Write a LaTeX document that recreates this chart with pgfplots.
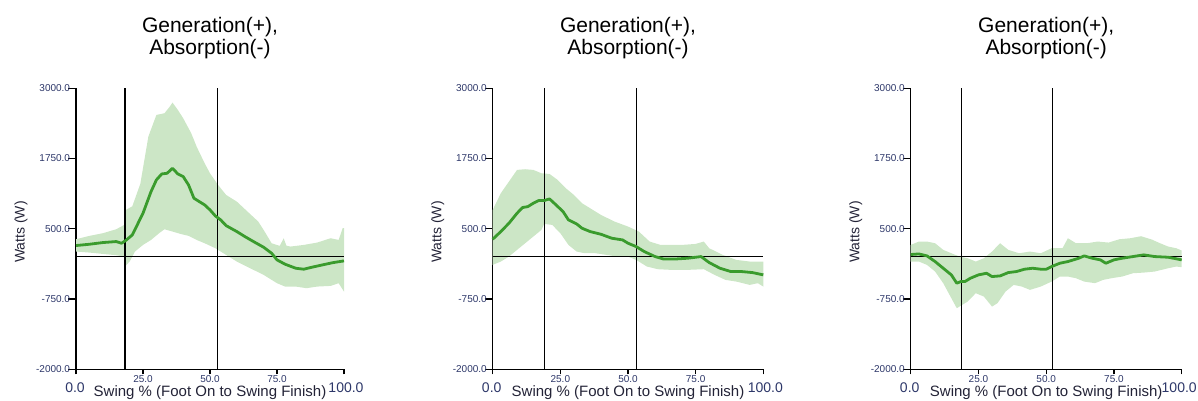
\documentclass[border=0pt]{standalone}
\usepackage{pgfplots}
\pgfplotsset{compat=1.18}
\usepackage{fontspec}
\setmainfont{Liberation Sans}
\definecolor{bandg}{RGB}{204,230,198}
\definecolor{lineg}{RGB}{58,155,45}
\definecolor{ticknavy}{RGB}{45,55,105}
\definecolor{labdark}{RGB}{35,35,55}
\pgfplotsset{
  panel/.style={
    anchor=south west, scale only axis, height=281pt,
    xmin=0, xmax=100, ymin=-2000, ymax=3000,
    axis lines*=left, axis line style={black, line width=1.4pt},
    tick align=outside,
    xtick={0,25,50,75,100}, xticklabels={,25.0,50.0,75.0,},
    ytick={-2000,-750,500,1750,3000},
    yticklabels={-2000.0,-750.0,500.0,1750.0,3000.0},
    x tick style={black, line width=1.4pt, /pgfplots/major tick length=5pt},
    y tick style={black, line width=1.4pt, /pgfplots/major tick length=8pt},
    ticklabel style={font=\fontsize{10}{11}\selectfont, text=ticknavy, inner sep=1.5pt},
    clip=false,
  },
  band/.style={fill=bandg, draw=none},
  meanline/.style={lineg, line width=2.8pt, line join=round},
  refline/.style={black, line width=1.2pt},
}
\newcommand\panelnodes[3]{% #1 left, #2 width, #3 shift of 100.0 label
  \pgfmathsetmacro\cx{#1+#2/2}
  \pgfmathsetmacro\rx{#1+#2+#3}
  \node[anchor=base, font=\fontsize{21}{23}\selectfont] at (\cx, 368) {Generation(+),};
  \node[anchor=base, font=\fontsize{21}{23}\selectfont] at (\cx, 346) {Absorption(-)};
  \node[rotate=90, font=\fontsize{14}{16}\selectfont, text=labdark] at (#1-55, 169) {Watts (W)};
  \node[anchor=base, font=\fontsize{15}{17}\selectfont, text=labdark] at (\cx, 4) {Swing \% (Foot On to Swing Finish)};
  \node[anchor=base, font=\fontsize{14}{16}\selectfont, text=ticknavy] at (#1-1, 8) {0.0};
  \node[anchor=base, font=\fontsize{14}{16}\selectfont, text=ticknavy] at (\rx, 8) {100.0};
}
\begin{document}
\begin{tikzpicture}[x=1pt,y=1pt]
\useasboundingbox (0,0) rectangle (1198,401);
% ---------------- Panel 1
\begin{axis}[panel, at={(76pt,31.7pt)}, width=268pt]
\addplot[band] coordinates {(0,314)(5,374)(10,421)(15,492)(18,569)(18.6,836)(21,900)(24,1300)(27,2141)(30,2526)(33,2556)(35,2674)(36,2746)(38,2615)(40,2467)(43,2200)(45,1963)(48,1666)(50,1488)(53,1281)(56,1103)(60,984)(64,806)(68,629)(70,480)(73,243)(76,196)(77.5,330)(78.5,200)(80,184)(85,213)(90,255)(95,332)(98,302)(99.5,510)(100,510)
(100,-617)(98,-468)(95,-516)(90,-528)(86,-557)(82,-528)(78,-528)(75,-468)(70,-320)(65,-202)(60,-83)(56,36)(52,154)(48,243)(45,302)(42,374)(39,409)(36,451)(33,492)(31,421)(28,302)(25,213)(22,95)(20,-83)(18.5,-160)(18,6)(15,30)(10,53)(5,77)(0,95)};
\addplot[refline] coordinates {(0,0)(100,0)};
\addplot[refline] coordinates {(18.3,-2000)(18.3,3000)};
\addplot[refline] coordinates {(52.9,-2000)(52.9,3000)};
\addplot[meanline] coordinates {(0,202)(5,225)(10,255)(15,273)(17,243)(18.5,290)(21,390)(25,777)(28,1162)(30,1370)(32,1476)(34,1488)(36,1577)(38,1476)(40,1429)(42,1280)(44,1044)(46,984)(48,925)(50,836)(52,729)(54,658)(56,557)(58,504)(60,451)(63,362)(66,279)(70,172)(73,65)(75,-53)(78,-130)(82,-202)(85,-219)(88,-184)(92,-142)(96,-101)(100,-71)};
\end{axis}
\panelnodes{76}{268}{2}
% ---------------- Panel 2
\begin{axis}[panel, at={(492.7pt,31.7pt)}, width=270.6pt]
\addplot[band] coordinates {(0,836)(3,1133)(6,1340)(9,1548)(12,1560)(15,1548)(18,1488)(21,1476)(24,1370)(27,1222)(30,1103)(33,955)(36,866)(40,747)(45,629)(50,540)(54,451)(58,273)(62,213)(66,213)(70,213)(75,231)(78,273)(80,154)(85,36)(90,-53)(95,-83)(100,-83)
(100,-528)(98,-468)(95,-498)(90,-439)(86,-409)(82,-320)(78,-219)(72,-231)(66,-231)(61,-219)(57,-172)(53,-53)(50,6)(46,6)(42,36)(38,65)(34,65)(31,95)(28,213)(25,421)(22,569)(19,587)(18,480)(15,362)(12,243)(9,125)(6,6)(3,-83)(0,-142)};
\addplot[refline] coordinates {(0,0)(100,0)};
\addplot[refline] coordinates {(19,-2000)(19,3000)};
\addplot[refline] coordinates {(53,-2000)(53,3000)};
\addplot[meanline] coordinates {(0,314)(3,451)(6,599)(9,777)(11,878)(13,895)(15,955)(17,1002)(19,1002)(21,1032)(23,943)(26,806)(28,658)(31,587)(33,510)(36,451)(40,403)(44,332)(48,302)(50,243)(53,184)(56,95)(60,6)(63,-36)(68,-36)(72,-24)(77,6)(80,-101)(84,-202)(88,-261)(92,-261)(96,-279)(100,-320)};
\end{axis}
\panelnodes{492.7}{270.6}{2}
% ---------------- Panel 3
\begin{axis}[panel, at={(910.7pt,31.7pt)}, width=271pt]
\addplot[band] coordinates {(0,213)(3,273)(6,273)(9,243)(12,125)(15,65)(18,6)(21,-24)(24,-83)(27,-24)(30,95)(33,243)(36,125)(40,65)(44,95)(48,65)(52,154)(56,154)(58,332)(61,243)(65,243)(69,273)(73,255)(77,314)(81,332)(85,368)(89,308)(92,243)(95,184)(98,154)(100,113)
(100,-184)(98,-172)(95,-202)(90,-261)(86,-279)(82,-291)(78,-350)(74,-380)(71,-409)(68,-468)(64,-439)(61,-380)(58,-350)(55,-350)(52,-439)(48,-528)(44,-587)(41,-528)(38,-498)(35,-617)(32,-824)(30,-884)(27,-706)(24,-646)(21,-795)(19,-854)(17,-913)(15,-735)(12,-468)(9,-261)(6,-142)(3,-83)(0,-83)};
\addplot[refline] coordinates {(0,0)(100,0)};
\addplot[refline] coordinates {(18.8,-2000)(18.8,3000)};
\addplot[refline] coordinates {(52.3,-2000)(52.3,3000)};
\addplot[meanline] coordinates {(0,42)(3,53)(6,18)(9,-83)(12,-202)(15,-320)(17,-468)(18.5,-439)(20,-439)(22,-380)(25,-320)(28,-291)(30,-350)(33,-338)(36,-279)(39,-261)(42,-219)(45,-202)(48,-219)(50,-219)(52,-172)(55,-113)(58,-83)(62,-24)(64,18)(67,-24)(70,-53)(72,-113)(75,-53)(78,-24)(82,6)(86,36)(90,6)(95,-6)(100,-53)};
\end{axis}
\panelnodes{910.7}{271}{-2.5}
\end{tikzpicture}
\end{document}
